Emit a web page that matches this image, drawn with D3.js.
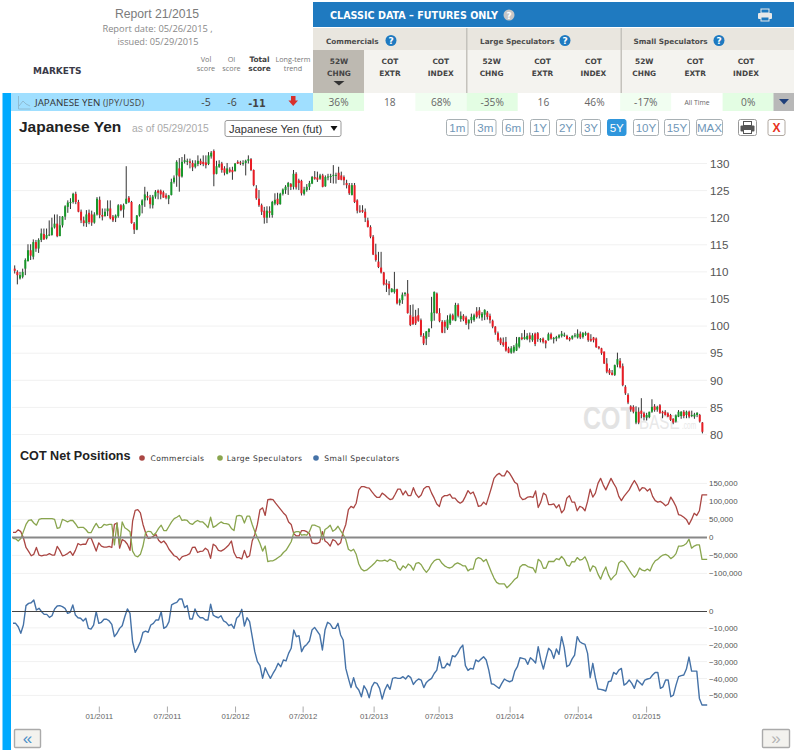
<!DOCTYPE html>
<html><head><meta charset="utf-8">
<script src="https://d3js.org/d3.v7.min.js"></script>
<style>html,body{margin:0;padding:0;background:#fff}svg{display:block}</style></head>
<body><div id="chart"></div>
<script>
// ---------- price candles (weekly, JPY/USD futures x100) ----------
const candleOpen=[110.6,110.0,108.8,109.1,110.6,112.0,114.0,112.8,115.5,114.3,115.9,117.0,116.2,116.8,116.8,118.2,118.9,116.6,118.6,120.2,122.0,122.7,122.9,124.4,122.9,121.1,119.5,119,120.9,120.6,119.1,120.6,123.3,120.5,120.3,121.2,121.7,120.2,119.9,120.3,122.3,121.5,122.6,123.7,122.9,118.9,117.8,120.4,122.3,123.2,124,123.7,122.3,123.9,125,125,124.7,124.1,123.5,124.2,126.6,127.8,129.1,127.6,130.3,130.3,130.4,130.1,129.4,129.9,130.5,130.3,130.2,129.9,131.3,132.3,128.1,129.4,130,129.1,128.1,128.9,128.8,128.6,130.3,130.2,130.1,130.1,130.5,130.8,128.8,125.4,123.5,122.3,121.3,120,121.2,120.5,122.6,123.5,122.5,124.4,125.1,125.7,126.2,125.7,128.1,126.9,126.8,124.4,125.1,125.7,126.3,127.5,127.4,127.2,127.8,125.8,127.5,127.5,127.8,127.8,128.3,127.8,127.5,126.4,126,124.2,126,123.2,121.3,121.4,121.1,119.5,118.3,
116.5,113.2,111.9,110.8,109.9,107.9,107.8,106.3,106.3,106.8,104.3,104.8,105.9,106,
102,101.7,101.8,102,101.1,98.2,97.7,98.9,100.9,102.4,106,102.4,100.8,100.8,99.6,100.5,102,101,103.9,101.3,101.9,101.6,100.5,101.1,101.1,102.7,102.9,101.6,102.1,102.5,101.9,101,99.9,98.7,97.7,97,97.1,95.9,95.1,95.3,95.5,96.2,97.9,97.6,97.6,98.3,97.4,98.6,98.7,97.5,97.7,97.3,97.4,98.5,97.6,97.7,97.9,98.2,98.3,98.2,97.8,97.7,98.2,97.9,98.6,98,98.4,98.7,97.6,97.9,97.7,96.2,95.9,95.3,93.1,91.9,91.4,91,92.9,93.6,92.6,88.8,87.3,85.2,85.1,82.2,84.2,84.4,83.9,83.1,83.2,84.2,85.2,84.6,85.4,84.2,84.2,83.9,83.6,82.9,82.4,83.3,83.4,84.2,83.6,84.2,83.6,83.3,83.6,83.6,82.2];
const candleHigh=[111.2,110.3,110.0,110.6,112.5,115.1,115.1,116.0,115.9,116.2,118.0,118.0,118.0,119.5,120.0,120.6,120.6,120.3,120.3,122.3,123.2,123.6,124.6,124.8,123.3,121.5,120.2,121.4,121.5,121.3,121,123.8,123.9,121.7,121.7,123.2,123.2,120.5,120.6,122.5,122.5,122.6,129.5,124,123.1,119.2,120.5,122.5,123.4,125.7,124.8,124.2,124.2,125.1,125.2,125.2,125,124.5,124.2,127.2,127.8,130.6,131,131.2,131.7,130.9,130.9,130.6,130.6,131.5,130.9,131.5,131.5,132.1,132.3,132.6,130.5,130.6,130.3,129.5,130.1,129.3,129.4,130.1,130.6,130.5,130.6,130.7,131.5,131,128.9,126,125.1,122.6,122,122.1,122.1,123.1,124.5,124.6,124.6,125.4,126,126.6,126.4,128.8,128.4,127.2,127,125.7,126.2,126.8,127.7,128.6,128.5,128.1,128.1,127.8,128.1,128.1,129.7,128.3,129.4,128.5,127.8,127,126.4,126.4,126.4,123.4,122.3,122.3,121.7,120,118.6,
116.8,115.2,113.7,113.7,110,108.6,108.3,107,110,106.9,105.1,106.2,106.3,108.5,
103.9,104,103,103.3,101.4,98.7,99.1,99.6,105.4,106.4,106.2,103.3,101.1,101.1,102,102.3,102.3,104.3,104.2,102.7,102.2,101.9,101.2,102.3,102.3,103.5,103.5,102.6,103.1,102.8,102.3,101.2,100,99,97.9,97.9,98,96.2,96.3,96.5,98,98,98.7,99.3,98.7,98.8,98.7,98.8,98.9,97.8,97.9,97.4,98.8,98.8,98,98.2,98.5,99.1,98.8,98.4,98,98.3,98.7,99.4,99,98.9,99,98.8,98.5,98,97.9,96.3,96,95.3,94.1,92.2,91.9,92.9,95.1,94.1,93.1,89.1,87.6,85.4,85.4,85.2,85,86.7,84.2,84,84.2,86.5,85.6,85.3,85.6,84.4,84.5,84.1,83.8,83,83.7,84.5,84.3,84.5,84.4,84.4,84.4,84,84.1,83.8,82.3];
const candleLow=[109.7,107.7,108.6,108.8,109.4,111.9,112.2,112.3,113.7,113.5,115.5,115.9,116.0,116.6,116.7,118.0,116.4,116.6,118.2,119.6,120.9,121.6,122.6,122.5,121,119,118.4,118.3,118.8,118.5,118.9,120.4,119.9,119.5,120.2,120.3,119.7,119.2,119.2,120,121.2,120.0,122.5,122.7,118.9,117.0,117.7,120.2,120.8,122,123.2,121.7,121.7,123.5,123.4,123.4,123.7,123.4,122.5,124.1,126.3,125.7,124.8,127.4,130,129.7,129.1,128.6,129.1,129.5,129.7,129.5,129.1,129.7,130.9,125.8,128,129.2,128.3,127.8,128,128.3,127,128.5,129.9,129.7,129.6,127.8,130,128.6,125.8,123.3,122,120.5,118.9,119,120,120,122.3,122.3,122.4,124.1,124.4,124.2,125.1,125.2,125.2,125.1,124.1,124.1,124.8,125.1,126.2,127,126.6,127,125.6,125.7,126.9,126.4,126.3,126.3,127,126.9,126,125.4,124.2,124.1,122.7,120.8,120.9,120.9,119.2,118.2,116.2,
113.1,111.9,110.7,109.7,107.5,106.3,105.7,106.2,106,104,103.8,104.1,105.5,102.3,
100,100.2,100.2,100.8,98,96.5,96.5,98,99.6,101,102.3,100.7,98.7,98.7,99.3,100.2,101,100.9,101.6,100.8,100.9,100.2,99.4,100.5,100.8,101.4,101.4,101,101.1,101.2,100.5,99.6,98.4,97.1,96.5,96.2,95.3,95,94.9,95,95.4,95.9,97.4,97.5,97.4,97,97.1,96.3,97.1,97,96.8,95.9,97.3,97.5,96.8,97.2,97.7,97.9,98,97.5,97.2,97.5,97.9,97.7,97.6,97.7,98.2,97.1,97.1,97,96,95.7,94.7,93,91.3,91,90.9,90.8,92.4,92.2,88.9,87.3,85.6,84.2,83.9,81.9,81.9,83,82.6,82.6,83,84,84.2,84.2,83.8,83,83.5,83.2,82.5,81.9,82.2,83.2,82.9,83,83,83,83.2,82.9,83.2,82.2,80.2];
const candleClose=[110.2,109.4,109.4,110.0,112.2,114.0,113.0,115.5,114.3,115.9,117.1,116.0,116.8,116.9,118.2,118.9,116.6,118.6,120.2,122.1,122.8,122.9,124.4,122.9,121.1,119.5,119,120.6,119.2,119.1,120.6,123.5,120.5,120.2,121.1,121.7,119.9,119.5,120.4,122.3,121.4,122.3,123.5,122.9,119.0,117.8,120.4,122.3,123.2,124.3,123.7,122.5,123.9,124.8,124.6,124.3,123.7,123.7,124.1,126.6,127.4,130.3,127.6,130.3,130.6,130.5,130.1,129.3,130,130.5,129.9,129.9,129.7,131.5,132,128,129.5,129.9,128.8,128.3,129.1,128.5,128.4,130,130,130,130.1,130.5,130.8,128.8,126,123.6,122.3,121.1,120,121.3,120.9,122.9,123.3,122.5,124.4,125.2,125.7,126.4,125.7,128.1,125.6,126.4,124.5,125.2,125.7,126.4,127.5,127.2,127,127.8,125.7,127.5,127.6,127.7,127.9,127.9,127,127,126.9,126,124.5,126,122.9,121.3,121.1,121.1,120,118.3,116.5,
113.2,112.2,110.9,109.9,107.7,107.6,106.9,106.9,106.8,104.2,104.8,105.8,106.1,102.4,
100.2,100.4,100.5,101,98.3,96.8,99,99.5,102.5,106.3,102.4,100.9,98.8,99.9,101.2,102,101.2,103.9,101.9,101.9,101.2,100.5,101.2,101.7,102,101.7,102,102.3,103,101.7,101.1,99.9,98.8,97.4,96.8,96.5,95.5,95.1,95.9,96.2,96.8,97.9,97.6,98,98.2,97.6,98.3,96.7,97.6,97.6,97.1,96.8,98.5,97.7,97.8,98,98.3,98.6,98.4,97.6,97.5,98.2,98.3,98.6,97.9,98.7,98.7,97.4,97.3,97.4,96.1,95.9,95,93.1,91.6,91.3,91,92.8,93.9,92.4,89.1,87.6,85.9,84.6,84.2,84.2,82.2,83.8,83.2,83.6,84.2,85.1,84.5,85.1,84,83.9,83.6,83.3,82.7,82.2,83.5,84.2,84.2,83.4,84.2,83.3,83.6,83.7,84,82.4,80.5];
const priceTicks=[130,125,120,115,110,105,100,95,90,85,80];

// ---------- COT net positions (weekly, thousands of contracts) ----------
const commercials=[14,14,21,16,-1,-28,-39,-51,-47,-28,-49,-51,-49,-49,-45,-49,-49,-25,-36,-51,-49,-45,-39,-50,-36,-17,-21,-19,-19,-3,-1,-19,-38,-15,-24,-27,-27,-25,-28,36,40,-30,-6,-10,-19,-36,45,75,77,68,36,13,-3,-1,3,8,-8,-15,-10,-19,-33,-42,-51,-54,-63,-54,-51,-49,-45,-28,-27,-42,-39,-38,-30,-36,-58,-19,-24,-36,-38,-34,-28,-21,-10,-42,-56,-56,-60,-36,-56,-51,-10,8,36,77,82,61,105,106,105,95,86,77,68,61,43,36,10,4,4,19,19,16,10,-15,-17,-17,-13,16,-10,-15,-24,-6,-10,-21,-15,16,36,77,86,82,95,132,141,141,138,137,127,118,111,111,123,118,111,105,107,120,134,134,118,129,116,116,138,120,111,118,135,141,141,123,109,93,86,111,116,116,120,109,109,100,95,100,114,130,121,126,109,86,88,98,91,114,138,164,173,178,171,171,185,178,166,153,148,114,105,107,112,113,111,129,83,98,123,118,91,91,93,82,91,68,77,109,116,98,98,74,86,83,74,100,134,112,123,150,164,146,132,148,164,150,138,114,102,114,123,132,146,158,146,129,138,137,129,135,114,102,98,100,95,88,93,112,100,86,63,61,56,50,36,50,67,61,74,118,118,118];
const largeSpeculators=[-3,-4,-10,-3,16,36,47,49,40,34,50,52,52,52,52,52,50,25,27,50,47,43,47,47,38,27,28,28,22,13,13,27,39,27,28,36,34,36,36,-21,40,-21,43,27,22,16,-38,-51,-54,-47,-24,13,17,16,6,13,25,34,19,19,31,43,52,56,61,47,49,47,39,36,43,47,43,43,36,27,56,28,32,38,43,39,38,36,25,19,59,61,59,40,59,59,36,16,-1,-17,-38,-24,-67,-65,-65,-61,-56,-51,-42,-36,-24,-12,13,16,16,6,8,6,16,34,34,31,28,-6,22,27,34,17,22,31,19,8,-6,-33,-38,-33,-47,-74,-88,-93,-91,-85,-79,-72,-63,-65,-65,-63,-67,-61,-65,-67,-85,-91,-79,-85,-74,-79,-91,-72,-70,-76,-88,-97,-88,-74,-65,-61,-61,-72,-79,-83,-85,-82,-74,-71,-74,-79,-79,-93,-88,-88,-61,-56,-59,-67,-61,-79,-97,-113,-125,-129,-129,-129,-140,-133,-125,-116,-111,-82,-76,-76,-81,-83,-85,-98,-61,-67,-86,-85,-67,-67,-67,-59,-62,-53,-61,-77,-80,-67,-68,-56,-63,-61,-54,-70,-94,-79,-83,-102,-116,-97,-82,-104,-118,-109,-102,-71,-65,-69,-79,-91,-102,-111,-102,-85,-91,-93,-88,-93,-76,-65,-61,-54,-49,-47,-51,-59,-54,-45,-24,-24,-22,-17,-5,-30,-24,-21,-21,-61,-61,-61];
const smallSpeculators=[-7.3,-7.3,-9.3,-13.2,-8.3,3.2,4.5,4.9,6.5,0.6,1.6,-0.4,-2,-2,-3.8,-2.8,1.2,3,3.2,2.6,1.6,-1.4,-0.8,3.6,-2.4,-4,-4.3,-5.9,-4.3,-10.3,-10.7,-8.3,-0.4,-7.3,-6.7,-4.9,-4.9,-5.9,-7.9,-15.2,-13.2,-10.3,-8.7,-3.4,1.2,-1.4,-18.2,-24.5,-21.7,-18.2,-12.6,-11.9,-12.6,-8.3,-7.3,-5.3,-5.3,-0.4,-10.3,-9.3,-6.3,3.6,4.5,5.1,7.1,7.1,2,3.2,-4.7,-4.7,1.2,-2.4,-4,-4,-5.3,-5.3,4,-2.4,-3.4,-4,-2.8,-5.9,-6.7,-8.7,-7.9,-10.3,-4.3,-2.8,1,-8.9,-4,-6.3,-15.2,-24.1,-30,-32.4,-39.9,-33.6,-37,-39.9,-37,-34.4,-31,-33,-29,-29.6,-25.1,-22.1,-11.3,-15.2,-14.6,-24.1,-21.1,-19.8,-17.8,-11.3,-9.7,-11.9,-14.2,-23.1,-11.3,-6.7,-7.7,-10.3,-10.3,-7.3,-14.2,-17.2,-34,-39.9,-45.4,-39.5,-44.9,-46.8,-50.8,-44.3,-46.8,-51.4,-44.9,-42.3,-42.9,-45.8,-52.2,-46.8,-43.5,-46.4,-39.9,-39.5,-39.9,-39.9,-38.9,-40.3,-38.3,-39.5,-43.5,-41.5,-40.3,-40.9,-45.4,-42.3,-40.9,-39.9,-37,-35,-27.1,-33.6,-33.6,-31,-32.4,-26.5,-27.1,-25.1,-22.1,-20.2,-32.4,-35.2,-34,-34.4,-29,-30,-28.5,-27.1,-29,-35,-43.1,-43.5,-44.7,-45.8,-42.9,-40.3,-41.3,-41.9,-41.3,-35.6,-33,-27.7,-28.1,-28.5,-31.6,-27.7,-29,-30.8,-21.1,-29,-34.4,-28.1,-22.1,-23.7,-28.1,-22.5,-25.7,-15.2,-21.7,-33,-32,-28.5,-26.1,-15.2,-18.2,-19.2,-19.8,-25.1,-39.5,-31,-39.5,-46.2,-46.4,-46.8,-47.4,-41.9,-41.5,-36.4,-37.5,-35,-34,-43.9,-42.9,-40.9,-42.9,-45.8,-40.9,-42.3,-43.9,-40.9,-40.3,-39.9,-37.9,-36.4,-36.4,-45.8,-44.9,-40.9,-40.9,-50.8,-49.8,-43.9,-38.9,-38.3,-37.9,-34.4,-27.3,-35.6,-35.6,-35.6,-51.8,-55.7,-55.7,-55.7];
const cotTicks=[150,100,50,0,-50,-100];
const smallTicks=[0,-10,-20,-30,-40,-50];
const dateLabels=["01/2011","07/2011","01/2012","07/2012","01/2013","07/2013","01/2014","07/2014","01/2015"];
const dateWeeks=[33,59.2,85.4,111.4,138.7,163.7,191,217.2,243.5];

// ---------- table ----------
const groupNames=["Commercials","Large Speculators","Small Speculators"];
const columnTop=["52W","COT","COT","52W","COT","COT","52W","COT","COT"];
const columnBottom=["CHNG","EXTR","INDEX","CHNG","EXTR","INDEX","CHNG","EXTR","INDEX"];
const rowValues=["36%","18","68%","-35%","16","46%","-17%","All Time","0%"];
const rowShades=["#e3fde3","#fff","#f1fef1","#e3fde3","#fff","#fff","#f1fef1","#fff","#e3fde3"];
const rangeNames=["1m","3m","6m","1Y","2Y","3Y","5Y","10Y","15Y","MAX"];
const rangeActive="5Y";
const seriesNames=["Commercials","Large Speculators","Small Speculators"];
const seriesColors=["#AA4643","#89A54E","#4572A7"];

const SANS="'Liberation Sans',Arial,sans-serif";
const VERD="'DejaVu Sans',Verdana,sans-serif";
const TAH="'Open Sans',Tahoma,sans-serif";

const svg=d3.select("#chart").append("svg").attr("width",794).attr("height",750).attr("viewBox","0 0 794 750");
const txt=(g,x,y,s,o={})=>g.append("text").attr("x",x).attr("y",y).text(s)
  .attr("font-family",o.f||TAH).attr("font-size",o.s||10).attr("fill",o.c||"#555")
  .attr("font-weight",o.w||"normal").attr("text-anchor",o.a||"start")
  .attr("letter-spacing",o.l||null);
const rect=(g,x,y,w,h,fill,o={})=>g.append("rect").attr("x",x).attr("y",y).attr("width",w).attr("height",h).attr("fill",fill)
  .attr("stroke",o.stroke||null).attr("stroke-width",o.sw||null).attr("rx",o.rx||null);
const help=(g,cx,cy,fill)=>{g.append("circle").attr("cx",cx).attr("cy",cy).attr("r",5.5).attr("fill",fill);
  txt(g,cx,cy+3.5,"?",{f:VERD,s:9,w:"bold",c:"#fff",a:"middle"});};
const printer=(g,x,y,c,bg)=>{rect(g,x+3,y,8,4,bg,{stroke:c,sw:1});rect(g,x,y+4,14,6,c,{rx:1});rect(g,x+3,y+8,8,4,bg,{stroke:c,sw:1});};

// ---------- report block ----------
const hd=svg.append("g");
txt(hd,157,18,"Report 21/2015",{f:SANS,s:12.2,c:"#7b7b7b",a:"middle"});
txt(hd,157.5,32,"Report date: 05/26/2015 ,",{s:9.3,c:"#888",a:"middle"});
txt(hd,158,45,"issued: 05/29/2015",{s:9.2,c:"#888",a:"middle"});
txt(hd,33,74,"MARKETS",{f:VERD,s:9,w:"bold",c:"#3a3a48"});
[["Vol","score",206],["OI","score",231.5]].forEach(d=>{txt(hd,d[2],62,d[0],{s:7.3,c:"#777",a:"middle"});txt(hd,d[2],71,d[1],{s:7.3,c:"#777",a:"middle"});});
txt(hd,259.5,62,"Total",{f:VERD,s:7.4,w:"bold",c:"#444",a:"middle"});txt(hd,259.5,71,"score",{f:VERD,s:7.4,w:"bold",c:"#444",a:"middle"});
txt(hd,293,62,"Long-term",{s:7.2,c:"#777",a:"middle"});txt(hd,293,71,"trend",{s:7.2,c:"#777",a:"middle"});

// ---------- COT table header ----------
rect(hd,313,2,481,25,"#1f7ac0");
rect(hd,313,28,481,22,"#e9e6df");
rect(hd,313,50,481,43,"#f4f3ef");
rect(hd,313,50,51,43,"#bdb9b1");
txt(hd,330,19,"CLASSIC DATA – FUTURES ONLY",{f:VERD,s:9.6,w:"bold",c:"#fff"});
help(hd,509,15,"#c6c6c6");
printer(hd,758,9,"#e8e8e8","#1f7ac0");
[[326,391],[480,565],[633.5,719]].forEach((p,i)=>{txt(hd,p[0],44,groupNames[i],{f:VERD,s:7.3,w:"bold",c:"#4c4c4c"});help(hd,p[1],40.5,"#1f7ac0");});
[466,620.5].forEach(x=>rect(hd,x,28,1.5,65,"#c4c2bc"));
const colX=d3.scaleLinear().domain([0,8]).range([339,746]);
columnTop.forEach((t,i)=>{const c=colX(i);
  txt(hd,c,63.5,t,{f:VERD,s:7.4,w:"bold",c:"#444",a:"middle"});
  txt(hd,c,75.5,columnBottom[i],{f:VERD,s:7.4,w:"bold",c:"#444",a:"middle"});});
hd.append("path").attr("d","M333.5 81h11l-5.5 4.5z").attr("fill","#333");

// ---------- selected row ----------
rect(hd,2.5,93,8.5,657,"#00aaff");
rect(hd,11,93,302,18,"#a0dfff");
rowValues.forEach((v,i)=>{const x=313+51.2*i;rect(hd,x,93,51.2,18,rowShades[i]);
  txt(hd,x+25.6,v==="All Time"?105:106,v,{s:v==="All Time"?6.8:10.2,c:"#666",a:"middle"});});
rect(hd,773.5,93,20.5,18,"#b8b8b8");
hd.append("path").attr("d","M779 99h10l-5 5.5z").attr("fill","#1f3f7a");
hd.append("path").attr("d","M18.5 96v13h12 M19 106l4-5 3 3 4 2").attr("fill","none").attr("stroke","#8ebbd2").attr("stroke-width",1);
txt(hd,35,106,"JAPANESE YEN",{s:9.8,c:"#333"});
txt(hd,103,106,"(JPY/USD)",{s:8.8,c:"#444",l:"0.3"});
txt(hd,206,106,"-5",{s:10.5,c:"#444",a:"middle"});
txt(hd,232,106,"-6",{s:10.5,c:"#444",a:"middle"});
txt(hd,257,106.5,"-11",{f:VERD,s:9.6,w:"bold",c:"#444",a:"middle"});
hd.append("path").attr("d","M291 96h4.5v4.5h2.5l-4.8 5.5-4.8-5.5h2.6z").attr("fill","#d8302c");

// ---------- title row ----------
txt(hd,19,132,"Japanese Yen",{f:SANS,s:15.5,w:"bold",c:"#222"});
txt(hd,132,132,"as of 05/29/2015",{f:SANS,s:10.3,c:"#aaa"});
rect(hd,225,120.5,116,16,"#fff",{stroke:"#999",sw:1,rx:2});
txt(hd,229,132.5,"Japanese Yen (fut)",{f:SANS,s:11.2,c:"#333"});
hd.append("path").attr("d","M330.5 126h7l-3.5 5z").attr("fill","#111");
const btnX=[446,474,502,530,556,581,607,633,664,696], btnW=[21.5,21.5,21,19,19,19,18.5,25,25,26];
rangeNames.forEach((n,i)=>{const on=n===rangeActive;
  rect(hd,btnX[i]+.5,119.5,btnW[i],16,on?"#2f96dc":"#fff",{stroke:on?"#2f96dc":"#a8b0b4",sw:1,rx:2});
  txt(hd,btnX[i]+.5+btnW[i]/2,131.5,n,{f:SANS,s:11.6,c:on?"#fff":"#6f97b8",a:"middle"});});
rect(hd,738.5,119.5,18,16,"#fff",{stroke:"#999",sw:1,rx:2});
printer(hd,740.5,121.5,"#555","#fff");
rect(hd,768,119.5,17,16,"#fff",{stroke:"#b0a8a0",sw:1,rx:2});
txt(hd,776.5,132,"X",{f:SANS,s:12,w:"bold",c:"#e8321e",a:"middle"});

// ---------- price chart ----------
const xPrice=d3.scaleLinear().domain([0,candleClose.length-1]).range([14.7,702.4]);
const yPrice=d3.scaleLinear().domain([130,80]).range([163.5,434.5]);
const pg=svg.append("g");
pg.append("g").selectAll("line").data(priceTicks).join("line")
  .attr("x1",12).attr("x2",707).attr("y1",d=>yPrice(d)).attr("y2",d=>yPrice(d)).attr("stroke","#f1f1f1").attr("stroke-width",1);
// watermark: each word squeezed horizontally so the three sit side by side
[["COT",583,429,32,"bold",.78,"#e3e3e3"],["BASE",639,428.5,20,"normal",.76,"#e8e8e8"],[".com",682,428.5,10.5,"normal",.62,"#e8e8e8"]]
  .forEach(w=>txt(pg,0,0,w[0],{f:SANS,s:w[3],w:w[4],c:w[6]}).attr("transform",`translate(${w[1]},${w[2]}) scale(${w[5]},1)`));
const idx=d3.range(candleClose.length);
pg.append("g").selectAll("line").data(idx).join("line")
  .attr("x1",i=>xPrice(i)).attr("x2",i=>xPrice(i)).attr("y1",i=>yPrice(candleHigh[i])).attr("y2",i=>yPrice(candleLow[i]))
  .attr("stroke","#333").attr("stroke-width",1);
pg.append("g").selectAll("rect").data(idx).join("rect")
  .attr("x",i=>xPrice(i)-1).attr("width",2)
  .attr("y",i=>yPrice(Math.max(candleOpen[i],candleClose[i])))
  .attr("height",i=>Math.max(1,Math.abs(yPrice(candleOpen[i])-yPrice(candleClose[i]))))
  .attr("fill",i=>candleClose[i]>=candleOpen[i]?"#17982a":"#ea1c24");
const pAxis=pg.append("g").attr("transform","translate(709,0)").call(d3.axisRight(yPrice).tickValues(priceTicks).tickSize(0).tickPadding(1));
pAxis.select(".domain").remove();
pAxis.selectAll("text").attr("font-family",SANS).attr("font-size",11.6).attr("fill","#555");

// ---------- COT net positions ----------
const cg=svg.append("g");
txt(cg,20,460,"COT Net Positions",{f:SANS,s:12.6,w:"bold",c:"#222"});
[[142,150.5],[220,226.7],[316,324.3]].forEach((p,i)=>{
  cg.append("circle").attr("cx",p[0]).attr("cy",458).attr("r",2.8).attr("fill",seriesColors[i]);
  txt(cg,p[1],461,seriesNames[i],{f:VERD,s:7.6,c:"#333",l:"0.42",w:"500"});
});
const xCot=d3.scaleLinear().domain([0,267]).range([13,707.2]);
const yCot=d3.scaleLinear().domain([150,-100]).range([483.4,573.4]);
const ySmall=d3.scaleLinear().domain([0,-50]).range([611,695.4]);
const grid=(scale,ticks)=>cg.append("g").selectAll("line").data(ticks).join("line")
  .attr("x1",12).attr("x2",707).attr("y1",d=>scale(d)).attr("y2",d=>scale(d))
  .attr("stroke","#f1f1f1").attr("stroke-width",1);
grid(yCot,cotTicks.filter(d=>d!==0));
grid(ySmall,smallTicks.filter(d=>d!==0));
const lineOf=(scale)=>d3.line().x((d,i)=>xCot(i)).y(d=>scale(d));
[commercials,largeSpeculators].forEach((arr,i)=>cg.append("path").datum(arr).attr("d",lineOf(yCot))
  .attr("fill","none").attr("stroke",seriesColors[i]).attr("stroke-width",1.3).attr("stroke-linejoin","round"));
cg.append("path").datum(smallSpeculators).attr("d",lineOf(ySmall))
  .attr("fill","none").attr("stroke",seriesColors[2]).attr("stroke-width",1.4).attr("stroke-linejoin","round");
cg.append("line").attr("x1",12).attr("x2",707).attr("y1",yCot(0)).attr("y2",yCot(0)).attr("stroke","#888").attr("stroke-width",2);
cg.append("line").attr("x1",12).attr("x2",707).attr("y1",ySmall(0)+.5).attr("y2",ySmall(0)+.5).attr("stroke","#444").attr("stroke-width",1);
const axisStyle=g=>{g.select(".domain").remove();g.selectAll("text").attr("font-family",SANS).attr("font-size",7.9).attr("fill","#555");};
cg.append("g").attr("transform","translate(708,0)")
  .call(d3.axisRight(yCot).tickValues(cotTicks).tickSize(0).tickPadding(1).tickFormat(d=>d3.format(",")(d*1000))).call(axisStyle);
cg.append("g").attr("transform","translate(708,0)")
  .call(d3.axisRight(ySmall).tickValues(smallTicks).tickSize(0).tickPadding(1).tickFormat(d=>d3.format(",")(d*1000))).call(axisStyle);
const xAxis=cg.append("g").attr("transform","translate(0,706.5)")
  .call(d3.axisBottom(xCot).tickValues(dateWeeks).tickSize(6).tickPadding(1).tickFormat((d,i)=>dateLabels[i]));
xAxis.select(".domain").remove();
xAxis.selectAll("line").attr("stroke","#aaa");
xAxis.selectAll("text").attr("font-family",SANS).attr("font-size",7.8).attr("fill","#666");

// ---------- pager ----------
const pager=svg.append("g");
rect(pager,14.5,729.5,26,18,"#f3f2ee",{stroke:"#aaa",sw:1.4,rx:1});
txt(pager,27.5,743.5,"«",{f:SANS,s:17,c:"#4a8fc8",a:"middle"});
rect(pager,762.5,729.5,27,18,"#f3f2ee",{stroke:"#aaa",sw:1.4,rx:1});
txt(pager,776,743.5,"»",{f:SANS,s:17,c:"#b5b5b5",a:"middle"});
</script></body></html>
